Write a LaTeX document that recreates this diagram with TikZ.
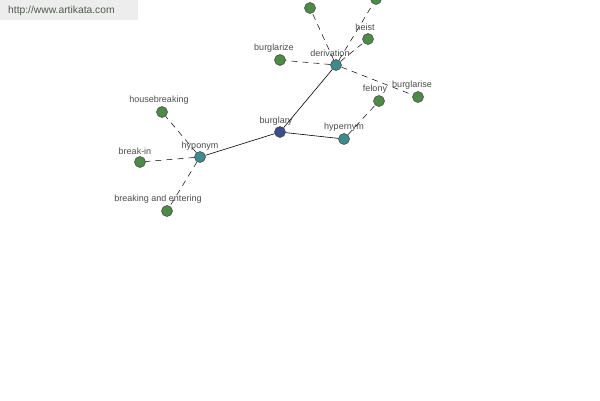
\documentclass[tikz,border=0pt]{standalone}
\usepackage{fontspec}
\setmainfont{Liberation Sans}
\begin{document}
\begin{tikzpicture}[x=1pt,y=-1pt,
  vtx/.style={circle,minimum size=11pt,inner sep=0pt,draw=black!75,line width=0.5pt},
  leaf/.style={vtx,fill=leafgreen},
  hub/.style={vtx,fill=hubteal},
  root/.style={vtx,fill=rootblue},
  lbl/.style={font=\fontsize{9}{10}\selectfont,text=black!70,inner sep=0pt},
  rel/.style={draw=black,line width=0.5pt,dash pattern=on 6pt off 5pt},
  main/.style={draw=black,line width=0.6pt}]
\definecolor{leafgreen}{HTML}{4E8A48}
\definecolor{hubteal}{HTML}{3F8A8C}
\definecolor{rootblue}{HTML}{3C4C8C}
\definecolor{wmtext}{HTML}{4F5A4F}
\useasboundingbox (0,0) rectangle (600,400);
\clip (0,0) rectangle (600,400);
\fill[white] (0,0) rectangle (600,400);
% watermark
\fill[black!7] (0,0) rectangle (138,20);
\node[anchor=west,inner sep=0pt,font=\fontsize{10.3}{11}\selectfont,text=wmtext] (wm) at (8,11) {http://www.artikata.com};
% nodes
\node[root] (burglary) at (280,132) {};
\node[hub] (derivation) at (336,65) {};
\node[hub] (hyponym) at (200,157) {};
\node[hub] (hypernym) at (344,139) {};
\node[leaf] (burglarize) at (280,60) {};
\node[leaf] (heist) at (368,39) {};
\node[leaf] (top1) at (310,8) {};
\node[leaf] (top2) at (376,-1) {};
\node[leaf] (felony) at (379,101) {};
\node[leaf] (burglarise) at (418,97) {};
\node[leaf] (housebreaking) at (162,112) {};
\node[leaf] (breakin) at (140,162) {};
\node[leaf] (bae) at (167,211) {};
% labels
\node[lbl] (lburglary) at (276,121) {burglary};
\node[lbl] (lderivation) at (330,53) {derivation};
\node[lbl] (lhyponym) at (200,146) {hyponym};
\node[lbl] (lhypernym) at (344,127) {hypernym};
\node[lbl] (lburglarize) at (274,48) {burglarize};
\node[lbl] (lheist) at (365,27) {heist};
\node[lbl] (ltop1) at (297,-3) {g};
\node[lbl] (lfelony) at (375,89) {felony};
\node[lbl] (lburglarise) at (412,85) {burglarise};
\node[lbl] (lhousebreaking) at (159,100) {housebreaking};
\node[lbl] (lbreakin) at (135,151) {break-in};
\node[lbl] (lbae) at (158,199) {breaking and entering};
% connectors
\draw[main] (burglary) -- (derivation);
\draw[main] (burglary) -- (hyponym);
\draw[main] (burglary) -- (hypernym);
\draw[rel] (derivation) -- (burglarize);
\draw[rel] (derivation) -- (heist);
\draw[rel] (derivation) -- (top1);
\draw[rel] (derivation) -- (top2);
\draw[rel] (derivation) -- (burglarise);
\draw[rel] (hypernym) -- (felony);
\draw[rel] (hyponym) -- (housebreaking);
\draw[rel] (hyponym) -- (breakin);
\draw[rel] (hyponym) -- (bae);
\end{tikzpicture}
\end{document}
